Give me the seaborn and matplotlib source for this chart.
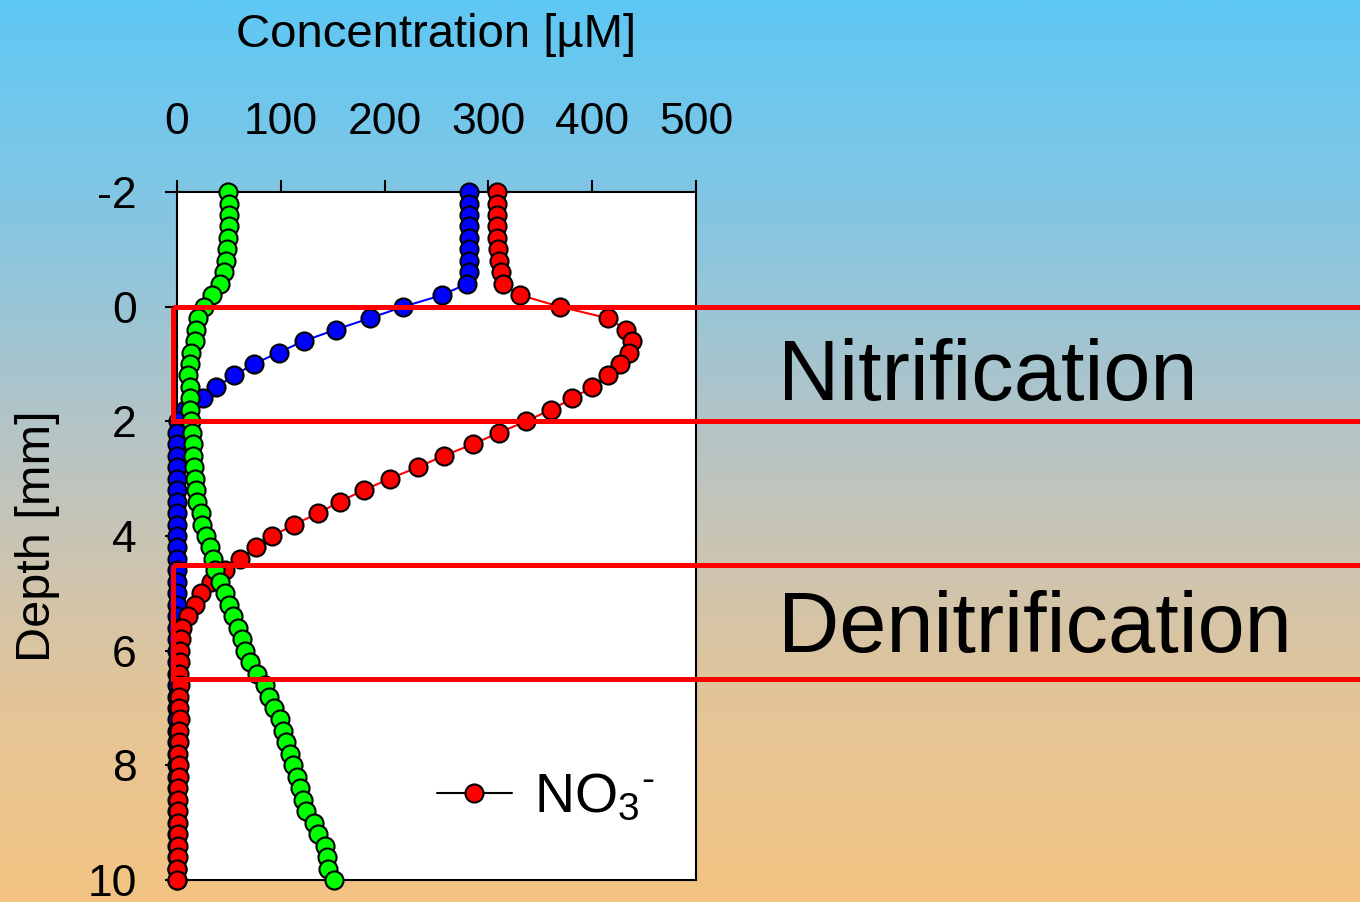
import numpy as np
import pandas as pd
import matplotlib
matplotlib.use("Agg")
import matplotlib.pyplot as plt
from matplotlib.colors import LinearSegmentedColormap
from matplotlib.patches import Rectangle
from matplotlib.lines import Line2D
import seaborn as sns

sns.set_theme(style="white")
plt.rcParams['font.family'] = ['Liberation Sans', 'DejaVu Sans']
plt.rcParams['mathtext.fontset'] = 'custom'
plt.rcParams['mathtext.rm'] = 'Liberation Sans'
plt.rcParams['mathtext.it'] = 'Liberation Sans'
plt.rcParams['mathtext.default'] = 'regular'
plt.rcParams['axes.unicode_minus'] = False
plt.rcParams['text.color'] = 'black'

# ---------------- data ----------------
depth = [-2.0, -1.8, -1.6, -1.4, -1.2, -1.0, -0.8, -0.6, -0.4, -0.2,
         0.0, 0.2, 0.4, 0.6, 0.8, 1.0, 1.2, 1.4, 1.6, 1.8,
         2.0, 2.2, 2.4, 2.6, 2.8, 3.0, 3.2, 3.4, 3.6, 3.8,
         4.0, 4.2, 4.4, 4.6, 4.8, 5.0, 5.2, 5.4, 5.6, 5.8,
         6.0, 6.2, 6.4, 6.6, 6.8, 7.0, 7.2, 7.4, 7.6, 7.8,
         8.0, 8.2, 8.4, 8.6, 8.8, 9.0, 9.2, 9.4, 9.6, 9.8, 10.0]

oxygen = [281.5, 281.5, 281.5, 281.5, 281.5, 281.5, 281.5, 281.5, 279.5, 255,
          218, 186, 153, 122, 98, 74, 55, 38, 25, 8,
          1, 0, 0, 0, 0, 0, 0, 0, 0, 0,
          0, 0, 0, 0, 0, 0, 0, 0, 0, 0,
          0, 0, 0, 0, 0, 0, 0, 0, 0, 0,
          0, 0, 0, 0, 0, 0, 0, 0, 0, 0, 0]

nitrate = [308, 308, 308, 308, 308, 309, 310, 312, 314, 331,
           369, 415, 433, 438, 436, 427, 415, 400, 381, 360,
           336, 310, 285, 257, 232, 205, 180, 157, 136, 113,
           92, 76, 61, 46, 33, 23, 17, 11, 5, 3.5,
           2.5, 2.5, 2, 2.5, 2, 2, 2.5, 2, 2, 1.5,
           2, 2, 1.5, 1.5, 1.5, 1, 1.5, 1, 1, 0.5, 0]

ammonium = [49, 50, 50, 50, 49, 48, 47, 45.5, 41.5, 34,
            26, 20.5, 18.5, 17, 14, 13, 11, 12.5, 13, 13,
            13.5, 14.5, 15, 15, 16, 17, 18, 19.5, 23, 24.5,
            28, 31.5, 34.5, 36.5, 41.5, 46.5, 50, 54, 59, 63,
            66, 70, 77, 84.5, 88.5, 93.5, 99, 102, 105.5, 109,
            112, 115.5, 119, 121, 124, 132, 136, 142.5, 145, 146, 151]

x_ticks = [0, 100, 200, 300, 400, 500]
y_ticks = [-2, 0, 2, 4, 6, 8, 10]
zones = [("Nitrification", 0.0, 2.0), ("Denitrification", 4.5, 6.5)]
legend_label = r"NO$_{3}{}^{\text{-}}$"

df = pd.DataFrame({"depth": depth, "O2": oxygen, "NO3": nitrate, "NH4": ammonium})

# ---------------- figure ----------------
fig = plt.figure(figsize=(13.6, 9.02), dpi=100)

# gradient background
bg = fig.add_axes([0, 0, 1, 1], zorder=-5)
cmap = LinearSegmentedColormap.from_list(
    "bg", [(0.0, "#5ec8f4"), (0.22, "#82c6e4"), (0.5, "#b9c4c3"),
           (0.78, "#e4c598"), (1.0, "#f3c382")])
grad = np.linspace(0, 1, 512).reshape(-1, 1)
bg.imshow(grad, aspect="auto", cmap=cmap, extent=[0, 1, 0, 1], origin="upper")
bg.set_axis_off()

ax = fig.add_axes([0.1301, 0.0244, 0.3816, 0.7627])
ax.set_facecolor("white")

mk = dict(marker="o", markersize=13, markeredgecolor="black",
          markeredgewidth=1.5, linewidth=1.5, sort=False, estimator=None,
          legend=False, clip_on=False)
sns.lineplot(data=df, x="O2", y="depth", color="#0000ff", ax=ax, zorder=3, **mk)
sns.lineplot(data=df, x="NO3", y="depth", color="#ff0000", ax=ax, zorder=4, **mk)
sns.lineplot(data=df, x="NH4", y="depth", color="#00ff00", ax=ax, zorder=5, **mk)

ax.set_xlim(0, 500)
ax.set_ylim(10, -2)
ax.xaxis.tick_top()
ax.xaxis.set_label_position("top")
ax.set_xticks(x_ticks)
ax.set_yticks(y_ticks)
ax.set_xticklabels([str(v) for v in x_ticks])
ax.set_yticklabels([str(v) for v in y_ticks])
ax.tick_params(axis="x", which="both", direction="out", length=9, width=1.5,
               colors="black", labelsize=32, pad=26, top=True, bottom=False)
ax.tick_params(axis="y", which="both", direction="out", length=9, width=1.5,
               colors="black", labelsize=32, pad=20, left=True)
for s in ax.spines.values():
    s.set_color("black")
    s.set_linewidth(1.5)
ax.set_xlabel("Concentration [µM]", fontsize=34, labelpad=40, color="black")
ax.set_ylabel("Depth [mm]", fontsize=35, labelpad=20, color="black")

# zone rectangles (extend to the right edge of the figure)
for name, d0, d1 in zones:
    ax.add_patch(Rectangle((-3.5, d0), 3000, d1 - d0, fill=False,
                           edgecolor="#ff0000", linewidth=3.6,
                           clip_on=False, zorder=10))
fig.text(0.572, 1 - 400 / 902, zones[0][0], fontsize=61, ha="left",
         va="baseline", color="black")
fig.text(0.572, 1 - 652 / 902, zones[1][0], fontsize=61, ha="left",
         va="baseline", color="black")

handle = Line2D([], [], color="black", linewidth=1.5, marker="o",
                markersize=13, markerfacecolor="#ff0000",
                markeredgecolor="black", markeredgewidth=1.5)
leg = ax.legend(handles=[handle], labels=[legend_label], loc="center",
                bbox_to_anchor=(0.71, 0.119), frameon=False, fontsize=40,
                handlelength=1.35, handletextpad=0.4, borderpad=0)
for t in leg.get_texts():
    t.set_color("black")

fig.savefig("out.png", dpi=100)
